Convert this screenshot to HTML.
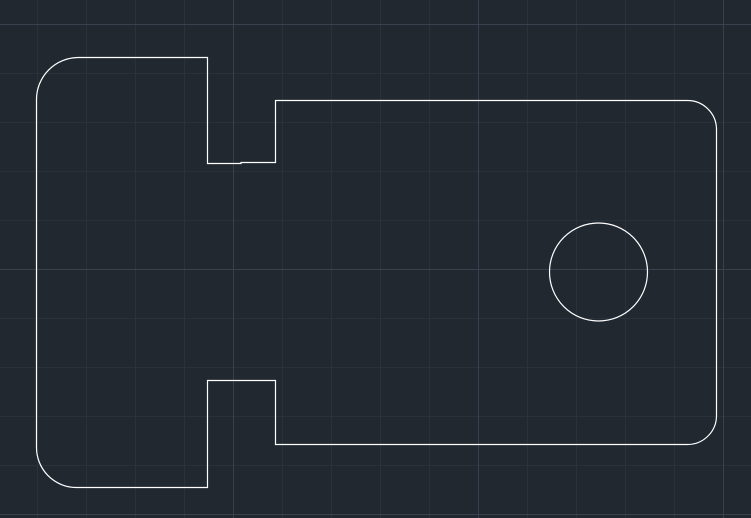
<!DOCTYPE html>
<html><head><style>html,body{margin:0;padding:0;background:#212830;}svg{display:block}</style></head>
<body>
<svg width="751" height="518" xmlns="http://www.w3.org/2000/svg">
<rect width="751" height="518" fill="#212830"/>
<g stroke="#2a313b" stroke-width="1">
<path d="M37.5 0V518M86.5 0V518M135.5 0V518M184.5 0V518M282.5 0V518M331.5 0V518M380.5 0V518M429.5 0V518M527.5 0V518M576.5 0V518M625.5 0V518M674.5 0V518"/>
<path d="M0 73.5H751M0 122.5H751M0 171.5H751M0 220.5H751M0 318.5H751M0 367.5H751M0 416.5H751M0 465.5H751"/>
</g>
<g stroke="#3a414e" stroke-width="1">
<path d="M233.5 0V518M478.5 0V518M723.5 0V518M0 24.5H751M0 269.5H751M0 514.5H751"/>
</g>
<g fill="none" stroke="#ffffff" stroke-width="1.2">
<path d="M36.5 99 A42 42 0 0 1 78 57.5 H207.5 V163.5 H241 V162.5 H275.5 V100.5 H687 A29 29 0 0 1 716.5 129 V415 A29 29 0 0 1 687 444.5 H275.5 V380.5 H207.5 V487.5 H76 A40 40 0 0 1 36.5 447 Z"/>
<circle cx="598.5" cy="272" r="49"/>
</g>
</svg>
</body></html>
